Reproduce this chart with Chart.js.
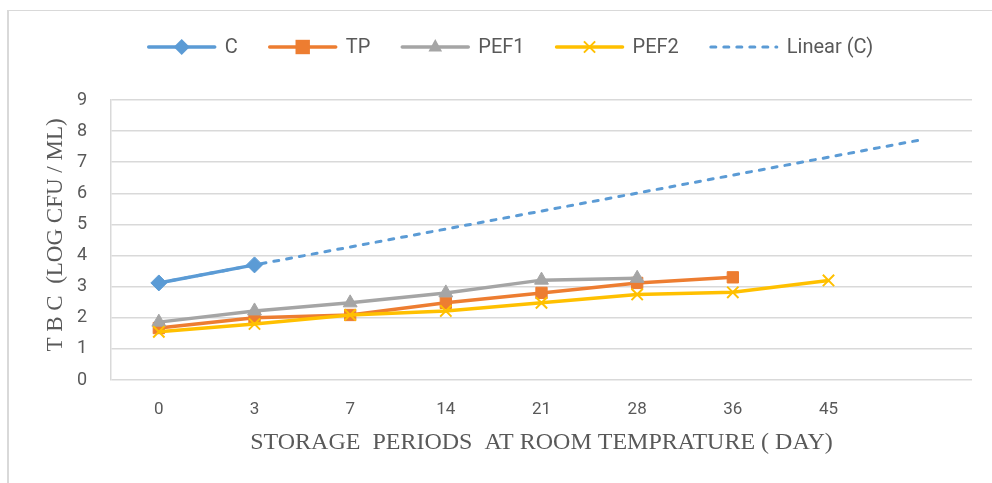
<!DOCTYPE html>
<html>
<head>
<meta charset="utf-8">
<script src="https://cdn.jsdelivr.net/npm/chart.js@4/dist/chart.umd.min.js"></script>
<style>
  html, body { margin: 0; padding: 0; background: #ffffff; }
  #wrap { position: relative; width: 992px; height: 483px; overflow: hidden; }
  #frame { position: absolute; left: 7px; top: 10px; width: 990px; height: 480px;
           border-left: 2px solid #d9d9d9; border-top: 1px solid #d9d9d9; }
  canvas { position: absolute; left: 0; top: 0; }
</style>
</head>
<body>
<div id="wrap">
  <div id="frame"></div>
  <canvas id="c" width="992" height="483"></canvas>
</div>
<script>
// ---- data ----
const days = ['0', '3', '7', '14', '21', '28', '36', '45', ''];
const seriesC    = [3.12, 3.70, null, null, null, null, null, null, null];
const seriesTP   = [1.67, 2.00, 2.09, 2.48, 2.80, 3.12, 3.30, null, null];
const seriesPEF1 = [1.86, 2.22, 2.48, 2.80, 3.21, 3.27, null, null, null];
const seriesPEF2 = [1.55, 1.80, 2.09, 2.22, 2.48, 2.75, 2.82, 3.20, null];
const trendC     = [3.12, null, null, null, null, null, null, null, 7.74];
const yTicks = { min: 0, max: 9, step: 1 };

const yTitle = 'T B C  (LOG CFU / ML)';
const xTitle = 'STORAGE  PERIODS  AT ROOM TEMPRATURE ( DAY)';

const BLUE = '#5B9BD5', ORANGE = '#ED7D31', GRAY = '#A5A5A5', GOLD = '#FFC000';
const TXT = '#595959', GRID = '#d9d9d9';
const tickFont = "'Liberation Sans Narrow', 'Arial Narrow', 'Roboto', sans-serif";
const serif = "'Liberation Serif', 'DejaVu Serif', serif";

function marker(ctx, style, x, y, r, color) {
  ctx.save();
  ctx.fillStyle = color; ctx.strokeStyle = color;
  ctx.setLineDash([]);
  ctx.beginPath();
  if (style === 'rectRot') {
    ctx.moveTo(x, y - r); ctx.lineTo(x + r, y); ctx.lineTo(x, y + r); ctx.lineTo(x - r, y); ctx.closePath(); ctx.fill();
  } else if (style === 'rect') {
    const s = r * 0.9; ctx.rect(x - s, y - s, 2 * s, 2 * s); ctx.fill();
  } else if (style === 'triangle') {
    ctx.moveTo(x, y - r); ctx.lineTo(x + r * 0.85, y + r * 0.55); ctx.lineTo(x - r * 0.85, y + r * 0.55); ctx.closePath(); ctx.fill();
  } else if (style === 'crossRot') {
    const s = r * 0.7; ctx.lineWidth = 2;
    ctx.moveTo(x - s, y - s); ctx.lineTo(x + s, y + s); ctx.moveTo(x + s, y - s); ctx.lineTo(x - s, y + s); ctx.stroke();
  }
  ctx.restore();
}

const customLegendAndTitles = {
  id: 'customLegendAndTitles',
  afterDraw(chart) {
    const ctx = chart.ctx;
    ctx.save();
    // legend
    ctx.font = "20px 'Liberation Sans Narrow', 'Arial Narrow', 'Roboto', sans-serif";
    ctx.textBaseline = 'middle';
    const items = chart.data.datasets;
    const lineLen = 70, gap = 8, spacing = 30;
    let total = 0;
    items.forEach((d, i) => { total += lineLen + gap + ctx.measureText(d.label).width + (i < items.length - 1 ? spacing : 0); });
    let x = 510 - total / 2;
    const y = 47;
    items.forEach(d => {
      ctx.save();
      ctx.strokeStyle = d.borderColor;
      ctx.lineWidth = d.borderWidth;
      ctx.lineCap = 'round';
      if (d.borderDash) ctx.setLineDash(d.borderDash);
      ctx.beginPath(); ctx.moveTo(x + 2, y); ctx.lineTo(x + lineLen - 2, y); ctx.stroke();
      ctx.restore();
      if (d.pointRadius > 0) marker(ctx, d.pointStyle, x + lineLen / 2, y, d.pointRadius, d.borderColor);
      ctx.fillStyle = TXT;
      ctx.textAlign = 'left';
      ctx.fillText(d.label, x + lineLen + gap, y + 1);
      x += lineLen + gap + ctx.measureText(d.label).width + spacing;
    });
    // axis titles
    const area = chart.chartArea;
    ctx.fillStyle = TXT;
    ctx.textAlign = 'center';
    ctx.font = "24px " + serif;
    ctx.fillText(xTitle, (area.left + area.right) / 2, 443);
    ctx.font = "23px " + serif;
    ctx.translate(56, (area.top + area.bottom) / 2 - 5);
    ctx.rotate(-Math.PI / 2);
    ctx.fillText(yTitle, 0, 0);
    ctx.restore();
  }
};

function lineSet(label, data, color, style, order) {
  return {
    label, data, order,
    borderColor: color, backgroundColor: color,
    borderWidth: 3.5,
    pointStyle: style, pointRadius: 8, pointHoverRadius: 8,
    pointBorderWidth: style === 'crossRot' ? 2 : 1,
    pointBackgroundColor: color, pointBorderColor: color,
    tension: 0, spanGaps: false
  };
}

new Chart(document.getElementById('c'), {
  type: 'line',
  data: {
    labels: days,
    datasets: [
      lineSet('C', seriesC, BLUE, 'rectRot', 3),
      lineSet('TP', seriesTP, ORANGE, 'rect', 2),
      lineSet('PEF1', seriesPEF1, GRAY, 'triangle', 1),
      lineSet('PEF2', seriesPEF2, GOLD, 'crossRot', 0),
      {
        label: 'Linear (C)', data: trendC, order: 4,
        borderColor: BLUE, backgroundColor: BLUE,
        borderWidth: 3, borderDash: [5, 8], borderCapStyle: 'round',
        pointRadius: 0, pointHoverRadius: 0, spanGaps: true, tension: 0
      }
    ]
  },
  options: {
    responsive: false,
    animation: false,
    events: [],
    layout: { padding: { left: 0, top: 100, right: 20, bottom: 0 } },
    plugins: { legend: { display: false }, tooltip: { enabled: false }, title: { display: false } },
    scales: {
      x: {
        type: 'category',
        offset: true,
        grid: { display: false, drawTicks: false },
        border: { display: false },
        ticks: { color: TXT, font: { family: tickFont, size: 17 }, padding: 20, maxRotation: 0, autoSkip: false },
        afterFit(scale) { scale.height = 103; }
      },
      y: {
        min: yTicks.min, max: yTicks.max,
        grid: { color: GRID, lineWidth: 1.5, drawTicks: false },
        border: { display: true, color: GRID, width: 1.5 },
        ticks: { stepSize: yTicks.step, color: TXT, font: { family: tickFont, size: 18 }, padding: 24 },
        afterFit(scale) { scale.width = 111; }
      }
    }
  },
  plugins: [customLegendAndTitles]
});
</script>
</body>
</html>
